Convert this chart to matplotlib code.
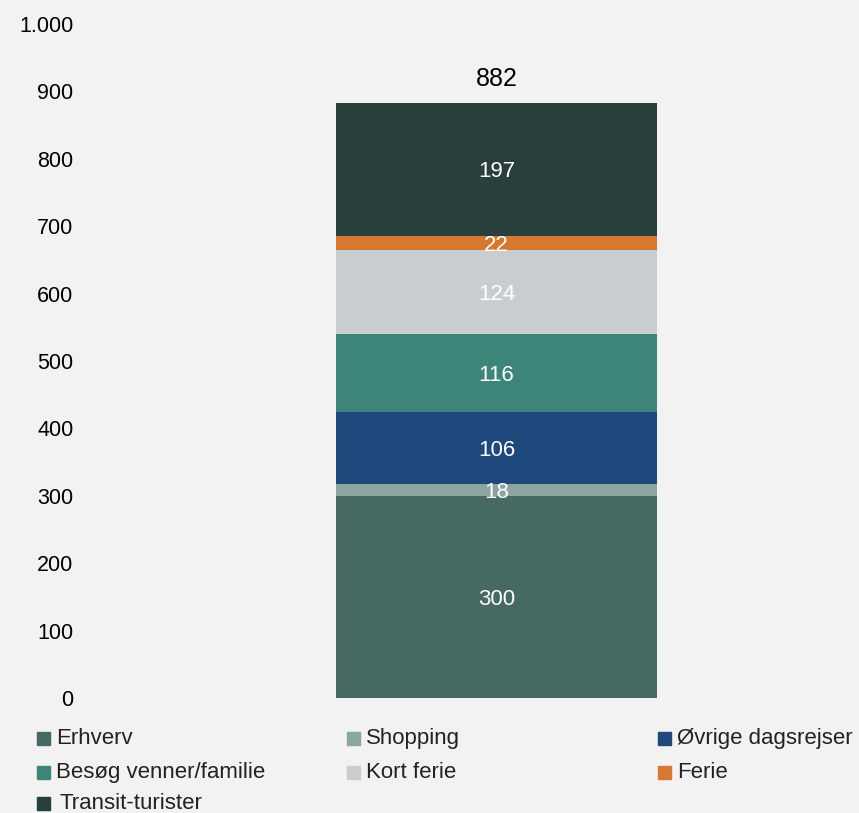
import matplotlib
matplotlib.use("Agg")
import matplotlib.pyplot as plt
from matplotlib.patches import Rectangle

categories = ["Erhverv", "Shopping", "Øvrige dagsrejser", "Besøg venner/familie",
              "Kort ferie", "Ferie", "Transit-turister"]
values = [300, 18, 106, 116, 124, 22, 197]
total = 882
colors = ["#466963", "#8BA5A1", "#1F487D", "#3E8579", "#C9CDD0", "#D6782F", "#293F3C"]
yticks = [0, 100, 200, 300, 400, 500, 600, 700, 800, 900, 1000]
yticklabels = ["0", "100", "200", "300", "400", "500", "600", "700", "800", "900", "1.000"]

plt.rcParams["font.family"] = ["Liberation Sans", "DejaVu Sans"]
bg = "#F2F2F2"

fig = plt.figure(figsize=(8.59, 8.13), dpi=100, facecolor=bg)
ax = fig.add_axes([0.1, 0.1415, 0.9, 0.829], facecolor=bg)

bottom = 0
for cat, v, c in zip(categories, values, colors):
    ax.bar(0.531, v, width=0.415, bottom=bottom, color=c, label=cat)
    ax.text(0.531, bottom + v / 2 - 4, str(v), ha="center", va="center",
            color="white", fontsize=16)
    bottom += v
ax.text(0.531, bottom + 17, str(total), ha="center", va="bottom",
        color="black", fontsize=18)

ax.set_xlim(0, 1)
ax.set_ylim(0, 1000)
ax.set_yticks(yticks)
ax.set_yticklabels(yticklabels, fontsize=15.5)
ax.tick_params(axis="y", length=0, pad=9)
ax.set_xticks([])
for s in ax.spines.values():
    s.set_visible(False)

# legend, laid out in rows like the original
W, H = 859, 813
col_x = [37, 347, 658]
row_y = [738, 772, 803]
for i, name in enumerate(categories):
    r, c = divmod(i, 3)
    x0 = col_x[c]
    yc = row_y[r]
    fig.patches.append(Rectangle((x0 / W, 1 - (yc + 7) / H), 13 / W, 13 / H,
                                 transform=fig.transFigure, color=colors[i]))
    fig.text((x0 + 19 + (4 if r == 2 else 0)) / W, 1 - yc / H, name,
             ha="left", va="center", fontsize=16, color="#222222")

fig.savefig("out.png", dpi=100, facecolor=bg)
